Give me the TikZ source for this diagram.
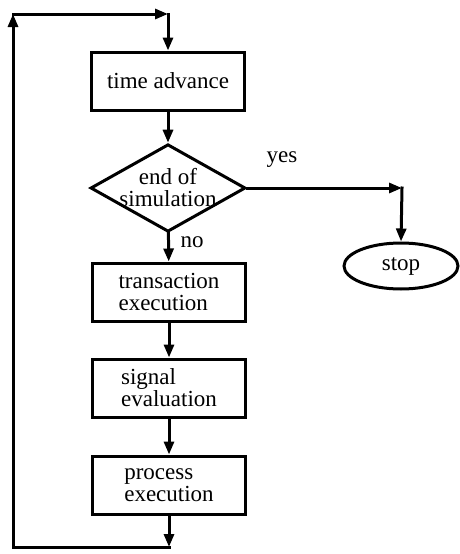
\documentclass[tikz,border=0pt]{standalone}
\usepackage{fontspec}
\setmainfont{Liberation Serif}
\usetikzlibrary{shapes.geometric,arrows.meta}

\begin{document}
\begin{tikzpicture}[x=1pt,y=1pt,yscale=-1,
    font=\fontsize{23}{22}\selectfont,
    line/.style={line width=3pt,line cap=rect},
    flow/.style={line, -{Triangle[length=13pt,width=10pt]}},
    procbox/.style={draw,line width=3pt,minimum width=153pt,minimum height=58pt,align=left,inner sep=0pt},
    decision/.style={draw,diamond,line width=3pt,minimum width=155pt,minimum height=79pt,inner sep=-12pt,align=center},
    terminal/.style={draw,ellipse,line width=3pt,minimum width=114pt,minimum height=46pt,inner sep=0pt}]
    \useasboundingbox (0,0) rectangle (459,554);

    %Shape: boxes of the loop
    \node[procbox] (time) at (168,81) {time advance};
    \node[decision] (sim) at (168,188) {end of\\simulation};
    \node[procbox] (trans) at (169,292) {transaction\\execution};
    \node[procbox] (signal) at (169,388) {signal\\evaluation};
    \node[procbox] (proc) at (169,485) {process\\execution};
    \node[terminal] (stop) at (401,266) {stop};

    %corners of the lines
    \coordinate (c1) at (169,547);
    \coordinate (c2) at (13,547);
    \coordinate (c3) at (13,14);
    \coordinate (c4) at (168,14);
    \coordinate (cy) at (402,188);

    %Lines
    \draw[flow] (time) -- (sim);
    \draw[flow] (sim) -- (trans);
    \draw[flow] (trans) -- (signal);
    \draw[flow] (signal) -- (proc);
    \draw[flow] (proc) -- (c1);
    \draw[flow] (c1) -- (c2) -- (c3);
    \draw[flow] (c3) -- (c4);
    \draw[flow] (c4) -- (time);
    \draw[flow] (sim.east) -- (cy);
    \draw[flow] (cy) -- (stop.north);

    % Text Node
    \node (yes) at (282,160) {yes};
    % Text Node
    \node (no) at (192,242) {no};
\end{tikzpicture}
\end{document}
